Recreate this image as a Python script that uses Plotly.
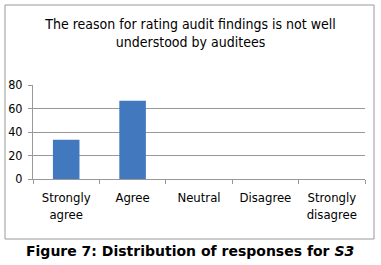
import plotly.graph_objects as go

categories = ["Strongly<br>agree", "Agree", "Neutral", "Disagree", "Strongly<br>disagree"]
values = [33.3, 66.7, 0, 0, 0]
y_ticks = [0, 20, 40, 60, 80]

FONT = "DejaVu Sans Condensed, Liberation Sans Narrow, sans-serif"

fig = go.Figure(go.Bar(x=categories, y=values, marker=dict(color="#4178BE", line=dict(width=0)), width=0.4))

fig.update_layout(
    width=381, height=265,
    margin=dict(l=33, r=16, t=85, b=86),
    paper_bgcolor="white", plot_bgcolor="white",
    showlegend=False,
    font=dict(family=FONT, color="black"),
    title=dict(text="The reason for rating audit findings is not well<br>understood by auditees",
               x=0.5, xanchor="center", y=0.89, yanchor="top",
               font=dict(size=14, family=FONT, color="black")),
    xaxis=dict(type="category", tickson="boundaries", ticks="outside", ticklen=4, tickcolor="#999",
               showline=True, linecolor="#999", linewidth=1, showgrid=False,
               tickfont=dict(size=13), ticklabelstandoff=6, fixedrange=True, automargin=False),
    yaxis=dict(range=[0, 80], tickvals=y_ticks, ticks="outside", ticklen=4, tickcolor="#999",
               showline=True, linecolor="#999", showgrid=True, gridcolor="#999", gridwidth=1,
               tickfont=dict(size=12.5), ticklabelstandoff=3, zeroline=False, fixedrange=True, automargin=False),
    shapes=[dict(type="rect", xref="paper", yref="paper", x0=-28/332, x1=(374-33)/332,
                 y0=(179-239)/94, y1=(179-5)/94, line=dict(color="#999", width=1), fillcolor="rgba(0,0,0,0)")],
    annotations=[dict(text="<b>Figure 7: Distribution of responses for <i>S3</i></b>", xref="paper", yref="paper",
                      x=(190-33)/332, y=(179-251)/94, xanchor="center", yanchor="middle", showarrow=False,
                      font=dict(size=14, family="DejaVu Sans, sans-serif", color="black"))],
)

fig.write_html("out.html", config={"displayModeBar": False},
               post_script="document.body.style.margin='0';document.body.style.overflow='hidden';")
